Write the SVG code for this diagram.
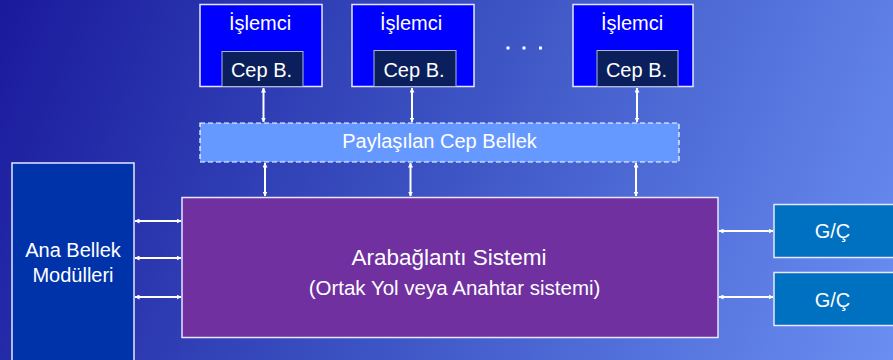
<svg xmlns="http://www.w3.org/2000/svg" width="893" height="360" viewBox="0 0 893 360">
  <defs>
    <linearGradient id="bg" x1="0" y1="0" x2="893" y2="360" gradientUnits="userSpaceOnUse">
      <stop offset="0" stop-color="#1a1a9c"/>
      <stop offset="0.5" stop-color="#3d55c4"/>
      <stop offset="1" stop-color="#6a8ef2"/>
    </linearGradient>
    <marker id="ah" viewBox="0 0 10 10" refX="9" refY="5" markerWidth="5" markerHeight="5" orient="auto-start-reverse" markerUnits="userSpaceOnUse">
      <path d="M0,0 L10,5 L0,10 z" fill="#ffffff"/>
    </marker>
  </defs>
  <style>
    text { font-family: "Liberation Sans", Arial, sans-serif; fill: #ffffff; text-anchor: middle; }
    .box { stroke: #e6e6ff; stroke-width: 1.5; }
    .cpu { fill: #0000ff; }
    .cache { fill: #0a1f5c; stroke: #b0b8d8; stroke-width: 1; }
    .shared { fill: #6699ff; stroke: #ffffff; stroke-width: 1.2; stroke-dasharray: 5 3; }
    .net { fill: #7030a0; }
    .mem { fill: #0033aa; }
    .io { fill: #0070c0; }
    .link { stroke: #ffffff; stroke-width: 2; fill: none; marker-start: url(#ah); marker-end: url(#ah); }
    .t20 { font-size: 20px; }
    .t22 { font-size: 22.5px; }
  </style>

  <rect x="0" y="0" width="893" height="360" fill="url(#bg)"/>

  <g id="cpu1">
    <rect class="box cpu" x="200" y="4.5" width="122" height="82"/>
    <text class="t20" x="260" y="30">İşlemci</text>
    <rect class="cache" x="222" y="51.5" width="81" height="35"/>
    <text class="t20" x="261.5" y="77">Cep B.</text>
  </g>
  <g id="cpu2">
    <rect class="box cpu" x="352" y="4.5" width="122" height="82"/>
    <text class="t20" x="411" y="30">İşlemci</text>
    <rect class="cache" x="374" y="50.5" width="82" height="36"/>
    <text class="t20" x="414" y="77">Cep B.</text>
  </g>
  <g id="dots">
    <rect x="506.5" y="46.5" width="3" height="3" fill="#ffffff"/>
    <rect x="522.5" y="46.5" width="3" height="3" fill="#ffffff"/>
    <rect x="539" y="46.5" width="3" height="3" fill="#ffffff"/>
  </g>
  <g id="cpu3">
    <rect class="box cpu" x="573" y="4.5" width="120" height="82"/>
    <text class="t20" x="632" y="30">İşlemci</text>
    <rect class="cache" x="597" y="50.5" width="81" height="36"/>
    <text class="t20" x="636.5" y="77">Cep B.</text>
  </g>

  <g id="shared-cache">
    <rect class="shared" x="200" y="123" width="479" height="39"/>
    <text class="t20" x="439.5" y="148">Paylaşılan Cep Bellek</text>
  </g>

  <g id="interconnect">
    <rect class="box net" x="182" y="197.5" width="536" height="140"/>
    <text class="t22" x="449" y="265">Arabağlantı Sistemi</text>
    <text class="t20" x="454.5" y="295" style="font-size:20.5px">(Ortak Yol veya Anahtar sistemi)</text>
  </g>

  <g id="main-memory">
    <rect class="box mem" x="12" y="163" width="122" height="210"/>
    <text class="t20" x="73" y="257">Ana Bellek</text>
    <text class="t20" x="73" y="282">Modülleri</text>
  </g>

  <g id="io1">
    <rect class="box io" x="774" y="204.5" width="130" height="53"/>
    <text class="t20" x="832.5" y="238">G/Ç</text>
  </g>
  <g id="io2">
    <rect class="box io" x="774" y="272.5" width="130" height="53"/>
    <text class="t20" x="832.5" y="307">G/Ç</text>
  </g>

  <g id="connectors">
    <line class="link" x1="263.5" y1="88" x2="263.5" y2="122"/>
    <line class="link" x1="412" y1="88" x2="412" y2="122"/>
    <line class="link" x1="637" y1="88" x2="637" y2="122"/>
    <line class="link" x1="265" y1="163" x2="265" y2="196"/>
    <line class="link" x1="410.5" y1="163" x2="410.5" y2="196"/>
    <line class="link" x1="636" y1="163" x2="636" y2="196"/>
    <line class="link" x1="135" y1="221" x2="181" y2="221"/>
    <line class="link" x1="135" y1="258" x2="181" y2="258"/>
    <line class="link" x1="135" y1="297" x2="181" y2="297"/>
    <line class="link" x1="719" y1="231" x2="773" y2="231"/>
    <line class="link" x1="719" y1="297" x2="773" y2="297"/>
  </g>
</svg>
